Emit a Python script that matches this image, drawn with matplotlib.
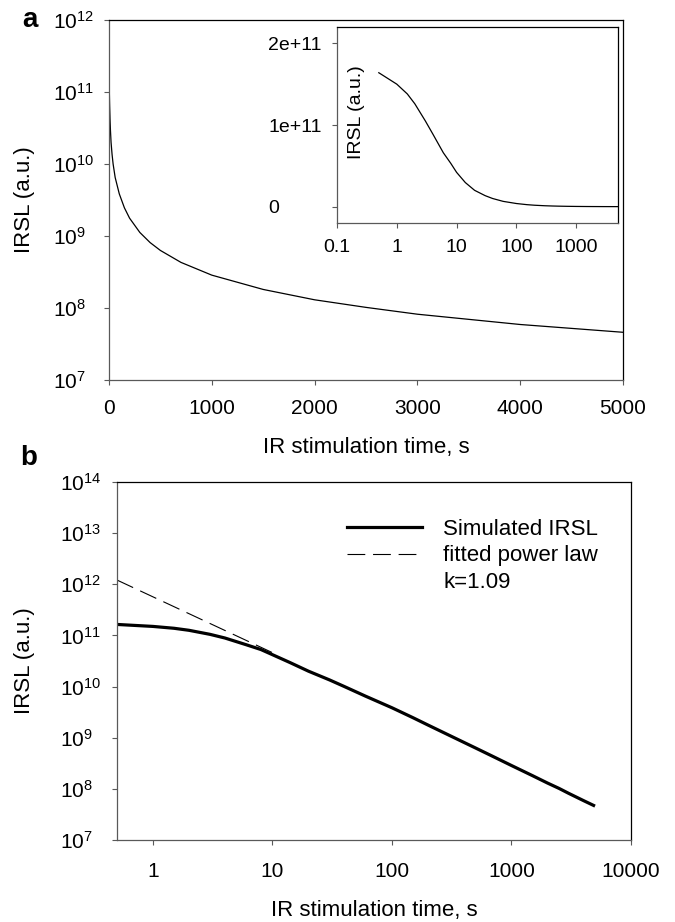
import matplotlib
matplotlib.use("Agg")
import matplotlib.pyplot as plt
from matplotlib.lines import Line2D

plt.rcParams['font.family'] = ['Liberation Sans', 'DejaVu Sans']
plt.rcParams['mathtext.fontset'] = 'custom'
plt.rcParams['mathtext.rm'] = 'Liberation Sans'
plt.rcParams['mathtext.it'] = 'Liberation Sans:italic'
plt.rcParams['mathtext.bf'] = 'Liberation Sans:bold'

# simulated IRSL curve (time in s, IRSL in a.u.)
time_s = [0.5, 1, 1.5, 2, 3, 4, 6, 8, 10, 14, 20, 30, 40, 60, 100,
          150, 200, 300, 400, 500, 700, 1000, 1500, 2000, 2500, 3000, 4000, 5000]
irsl = [1.64e11, 1.50e11, 1.38e11, 1.26e11, 1.05e11, 8.9e10, 6.6e10, 5.3e10,
        4.2e10, 2.95e10, 2.0e10, 1.35e10, 1.0e10, 6.5e9, 3.85e9,
        2.46e9, 1.77e9, 1.12e9, 8.1e8, 6.3e8, 4.3e8, 2.86e8, 1.81e8, 1.30e8,
        1.02e8, 8.2e7, 5.9e7, 4.6e7]

# fitted power law, k = 1.09 (visible part, end points)
fit_t = [0.5, 10]
fit_irsl = [1.21e12, 4.6e10]

# ticks
a_xticks = [0, 1000, 2000, 3000, 4000, 5000]
a_yticks = [1e7, 1e8, 1e9, 1e10, 1e11, 1e12]
a_ylabels = ['$10^{7}$', '$10^{8}$', '$10^{9}$', '$10^{10}$', '$10^{11}$', '$10^{12}$']
in_xticks = [0.1, 1, 10, 100, 1000]
in_xlabels = ['0.1', '1', '10', '100', '1000']
in_yticks = [0, 1e11, 2e11]
in_ylabels = ['0', '1e+11', '2e+11']
b_xticks = [1, 10, 100, 1000, 10000]
b_xlabels = ['1', '10', '100', '1000', '10000']
b_yticks = [1e7, 1e8, 1e9, 1e10, 1e11, 1e12, 1e13, 1e14]
b_ylabels = ['$10^{7}$', '$10^{8}$', '$10^{9}$', '$10^{10}$', '$10^{11}$',
             '$10^{12}$', '$10^{13}$', '$10^{14}$']

W, H = 675, 922
fig = plt.figure(figsize=(W / 100, H / 100), dpi=100)


def style(ax, tick_fs=15, xpad=10, ypad=37):
    for s in ['left', 'bottom']:
        ax.spines[s].set_color('0.35')
    for s in ['top', 'right']:
        ax.spines[s].set_color('black')
    for s in ax.spines.values():
        s.set_linewidth(0.9)
    ax.tick_params(direction='out', length=3.6, width=0.8, color='0.35',
                   labelsize=tick_fs, top=False, right=False)
    ax.tick_params(axis='x', pad=xpad)
    ax.tick_params(axis='y', pad=ypad)
    ax.minorticks_off()


# panel a
ax_a = fig.add_axes([109 / W, 1 - 380 / H, 514 / W, 360 / H])
ax_a.plot(time_s, irsl, color='black', lw=0.9)
ax_a.set_yscale('log')
ax_a.set_xlim(0, 5000)
ax_a.set_ylim(1e7, 1e12)
ax_a.set_xticks(a_xticks, [str(v) for v in a_xticks])
ax_a.set_yticks(a_yticks, a_ylabels, ha='left')
style(ax_a, xpad=10, ypad=36.7)
ax_a.set_xlabel('IR stimulation time, s', fontsize=16, labelpad=14)
ax_a.set_ylabel('IRSL (a.u.)', fontsize=16)
ax_a.yaxis.set_label_coords(-0.144, 0.5)

# inset
ax_in = fig.add_axes([337 / W, 1 - 223 / H, 281 / W, 196 / H])
ax_in.plot(time_s, irsl, color='black', lw=0.9)
ax_in.set_xscale('log')
ax_in.set_xlim(0.1, 5000)
ax_in.set_ylim(-0.2e11, 2.2e11)
ax_in.set_xticks(in_xticks, in_xlabels)
ax_in.set_yticks(in_yticks, in_ylabels, ha='left')
style(ax_in, tick_fs=14, xpad=8, ypad=46)
ax_in.text(0.071, 0.564, 'IRSL (a.u.)', rotation=90, fontsize=14,
           ha='center', va='center', transform=ax_in.transAxes)

# panel b
ax_b = fig.add_axes([117 / W, 1 - 840 / H, 514 / W, 358 / H])
ax_b.plot(fit_t, fit_irsl, color='black', lw=0.8, dashes=(16, 7))
ax_b.plot(time_s, irsl, color='black', lw=2.3, solid_capstyle='butt')
ax_b.set_xscale('log')
ax_b.set_yscale('log')
ax_b.set_xlim(0.5, 10000)
ax_b.set_ylim(1e7, 1e14)
ax_b.set_xticks(b_xticks, b_xlabels)
ax_b.set_yticks(b_yticks, b_ylabels, ha='left')
style(ax_b, xpad=12, ypad=37.4)
ax_b.set_xlabel('IR stimulation time, s', fontsize=16, labelpad=14)
ax_b.set_ylabel('IRSL (a.u.)', fontsize=16)
ax_b.yaxis.set_label_coords(-0.16, 0.5)

handles = [Line2D([], [], color='black', lw=2.3),
           Line2D([], [], color='black', lw=0.8, dashes=(16, 7)),
           Line2D([], [], color='none')]
labels = ['Simulated IRSL', 'fitted power law', 'k=1.09']
ax_b.legend(handles, labels, loc='upper left', bbox_to_anchor=(0.447, 0.897),
            frameon=False, fontsize=16, borderaxespad=0, borderpad=0,
            handlelength=3.4, handletextpad=0.95, labelspacing=0.25)

fig.text(30 / W, 1 - 20 / H, 'a', fontsize=20, fontweight='bold',
         ha='center', va='center')
fig.text(29 / W, 1 - 458 / H, 'b', fontsize=20, fontweight='bold',
         ha='center', va='center')

fig.savefig('out.png', dpi=100)
